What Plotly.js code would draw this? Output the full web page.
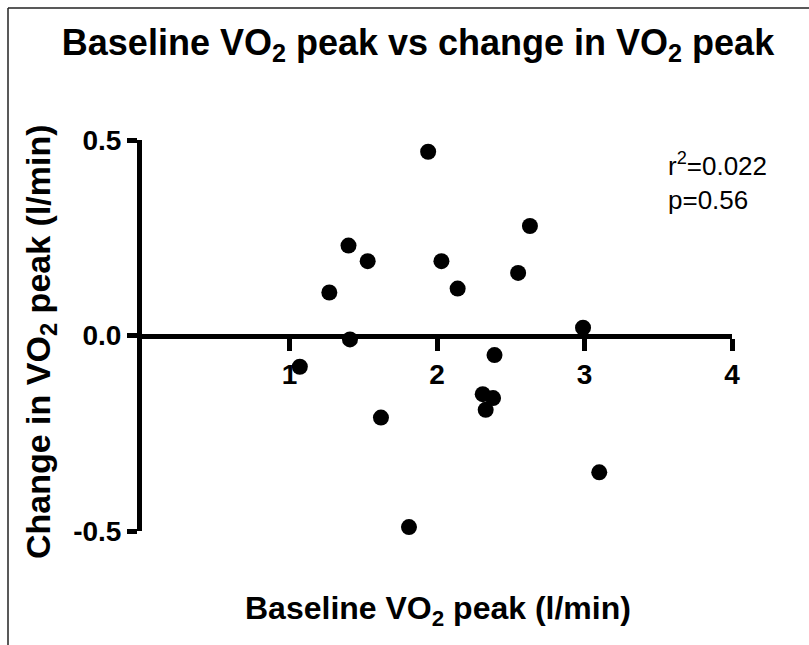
<!DOCTYPE html>
<html><head><meta charset="utf-8">
<script src="https://cdn.plot.ly/plotly-3.0.1.min.js"></script>
<style>html,body{margin:0;padding:0;background:#fff}#chart{width:809px;height:645px}</style>
</head><body><div id="chart"></div>
<script>
// Data
const baselineVO2 = [1.07, 1.27, 1.40, 1.41, 1.53, 1.62, 1.81, 1.94, 2.03, 2.14, 2.31, 2.33, 2.38, 2.39, 2.55, 2.63, 2.99, 3.10];
const changeVO2   = [-0.08, 0.11, 0.23, -0.01, 0.19, -0.21, -0.49, 0.47, 0.19, 0.12, -0.15, -0.19, -0.16, -0.05, 0.16, 0.28, 0.02, -0.35];
const xTickVals = [1, 2, 3, 4];
const xTickText = ['1', '2', '3', '4'];
const yTickVals = [-0.5, 0, 0.5];
const yTickText = ['-0.5', '0.0', '0.5'];
const chartTitle = 'Baseline VO<sub>2</sub> peak vs change in VO<sub>2</sub> peak';
const xTitle = 'Baseline VO<sub>2</sub> peak (l/min)';
const yTitle = 'Change in VO<sub>2</sub> peak (l/min)';
const statsText = 'r<sup>2</sup>=0.022<br>p=0.56';

const boldFont = 'Liberation Sans Narrow, Arial Narrow, Liberation Sans, Arial, sans-serif';
const regFont = 'Liberation Sans, Arial, sans-serif';

const trace = {
  type: 'scatter', mode: 'markers',
  x: baselineVO2, y: changeVO2,
  marker: {color: '#000', size: 16, line: {width: 0}},
  cliponaxis: false, hoverinfo: 'skip'
};

const L = 142, R = 77, T = 140, B = 114;
const W = 809, H = 645;
const pw = W - L - R, ph = H - T - B;
const px = v => (v - L) / pw;
const py = v => (H - B - v) / ph;

const layout = {
  width: W, height: H,
  margin: {l: L, r: R, t: T, b: B, pad: 0},
  paper_bgcolor: '#fff', plot_bgcolor: '#fff',
  showlegend: false,
  title: {text: chartTitle, font: {family: boldFont, size: 36, color: '#000', weight: 'bold'},
          x: 418 / W, xref: 'container', xanchor: 'center', y: 1 - 42 / H, yref: 'container', yanchor: 'middle'},
  xaxis: {
    range: [0, 4], anchor: 'free', position: 0.5,
    showline: true, linewidth: 5, linecolor: '#000',
    ticks: 'outside', ticklen: 12, tickwidth: 5, tickcolor: '#000',
    tickvals: xTickVals, ticktext: xTickText,
    tickfont: {family: boldFont, size: 28, color: '#000', weight: 'bold'},
    showgrid: false, zeroline: false, layer: 'below traces', fixedrange: true
  },
  yaxis: {
    range: [-0.5, 0.5],
    showline: true, linewidth: 5, linecolor: '#000',
    ticks: 'outside', ticklen: 10, tickwidth: 5, tickcolor: '#000',
    tickvals: yTickVals, ticktext: yTickText,
    tickfont: {family: regFont, size: 28, color: '#000', weight: 'bold'},
    showgrid: false, zeroline: false, layer: 'below traces', fixedrange: true
  },
  annotations: [
    {text: xTitle, xref: 'paper', yref: 'paper', x: px(438), y: py(610), xanchor: 'center', yanchor: 'middle',
     showarrow: false, font: {family: boldFont, size: 32, color: '#000', weight: 'bold'}},
    {text: yTitle, xref: 'paper', yref: 'paper', x: px(40), y: py(342), xanchor: 'center', yanchor: 'middle',
     textangle: -90, showarrow: false, font: {family: regFont, size: 34, color: '#000', weight: 'bold'}},
    {text: statsText, xref: 'paper', yref: 'paper', x: px(666), y: py(181), xanchor: 'left', yanchor: 'middle',
     align: 'left', showarrow: false, font: {family: regFont, size: 26, color: '#000'}}
  ],
  shapes: [
    {type: 'line', xref: 'paper', yref: 'paper', x0: px(8), x1: px(809), y0: py(8), y1: py(8), line: {color: '#222', width: 1.5}},
    {type: 'line', xref: 'paper', yref: 'paper', x0: px(8), x1: px(8), y0: py(8), y1: py(645), line: {color: '#222', width: 1.5}}
  ]
};

Plotly.newPlot('chart', [trace], layout, {staticPlot: true, displayModeBar: false});
</script>
</body></html>
